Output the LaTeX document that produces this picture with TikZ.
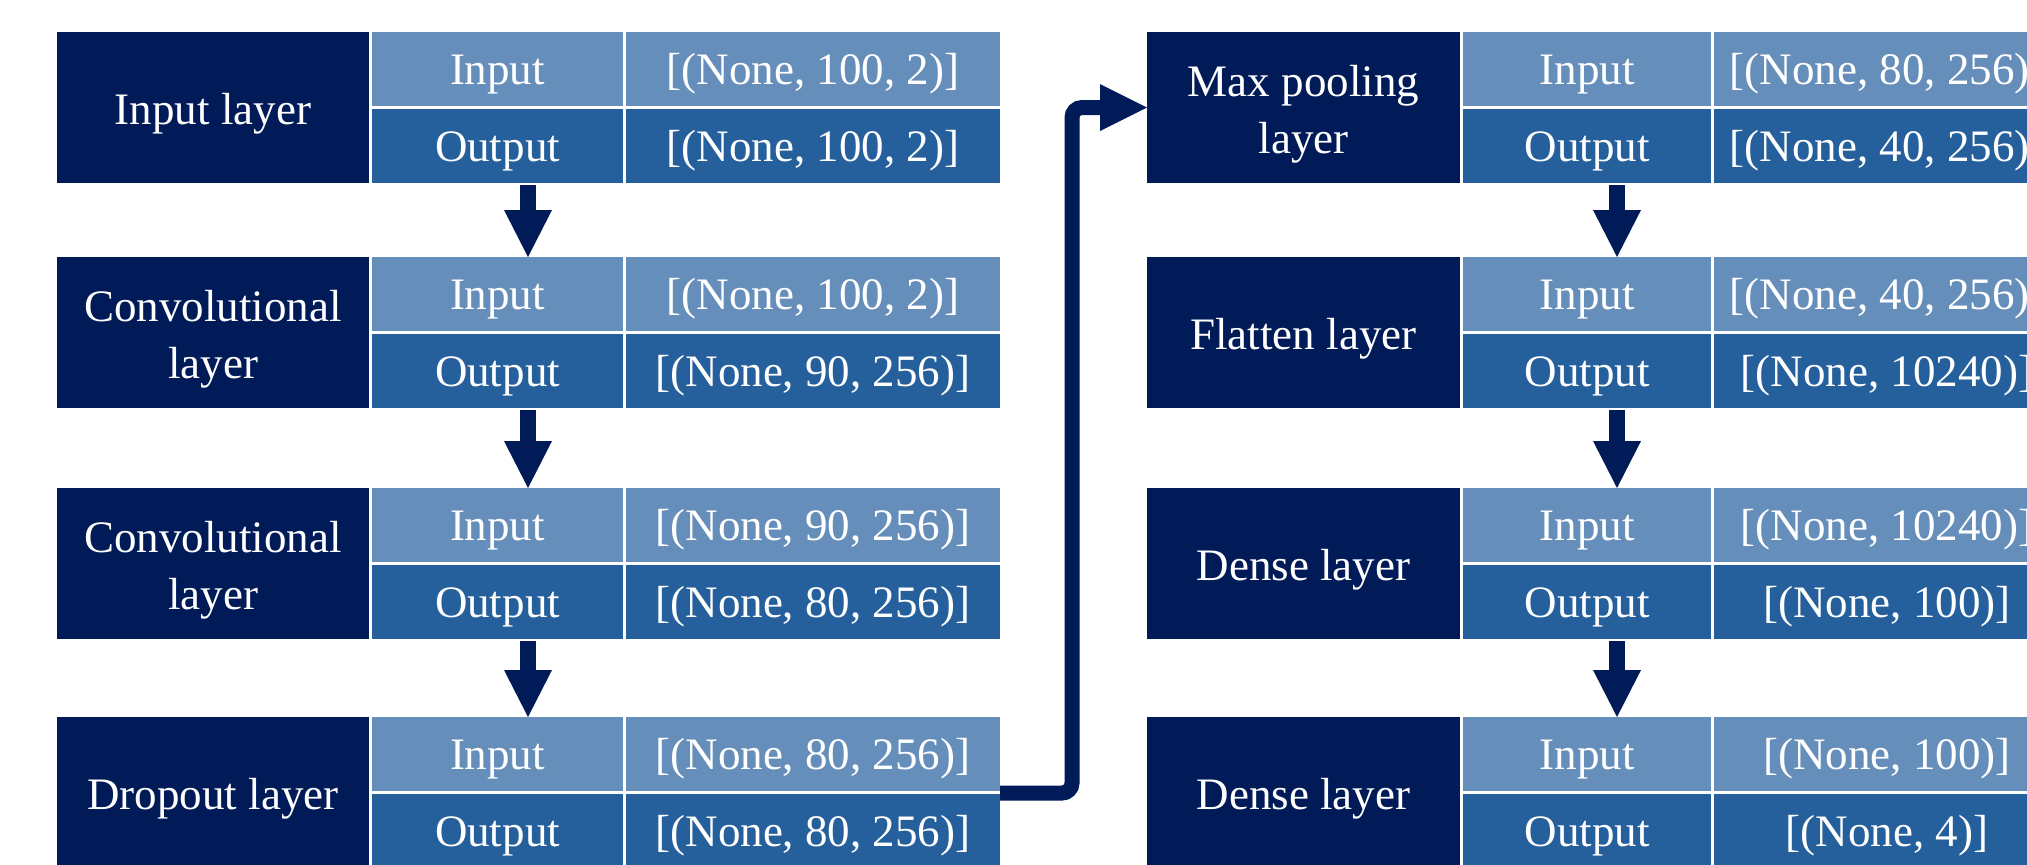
\documentclass[tikz,border=0pt]{standalone}
\usepackage{fontspec}
\setmainfont{Liberation Serif}
\usetikzlibrary{arrows.meta}
\definecolor{navy}{HTML}{001B58}
\definecolor{lightrow}{HTML}{668EBA}
\definecolor{midrow}{HTML}{255F9C}
\tikzset{
  cell/.style={inner sep=0pt, outer sep=0pt, text=white, font=\fontsize{22.5}{28.5}\selectfont, align=center},
  darkcell/.style={cell, fill=navy, minimum height=75.5pt},
  celltext/.style={cell},
  incell/.style={cell, fill=lightrow, minimum height=37pt, text height=15pt, text depth=0pt},
  outcell/.style={cell, fill=midrow, minimum height=37pt, text height=15pt, text depth=0pt},
  downarrow/.style={draw=navy, line width=8pt, -{Triangle[width=24pt,length=23.5pt,line width=0pt]}},
  linkarrow/.style={draw=navy, line width=7.5pt, rounded corners=5pt, -{Triangle[width=23.5pt,length=23.5pt,line width=0pt]}}
}
\newcommand\mkleft[5]{%
  \node[darkcell, minimum width=156pt] (#1d) at (213,#2+75.5) {};
  \node[celltext] (#1t) at ([yshift=-3.2pt]#1d.center) {#3};
  \node[incell, minimum width=125.5pt] (#1i) at (497.5,#2+37) {Input};
  \node[outcell, minimum width=125.5pt] (#1o) at (497.5,#2+114) {Output};
  \node[incell, minimum width=187pt] (#1vi) at (813,#2+37) {#4};
  \node[outcell, minimum width=187pt] (#1vo) at (813,#2+114) {#5};
}
\newcommand\mkright[5]{%
  \node[darkcell, minimum width=156.5pt] (#1d) at (1303.5,#2+75.5) {};
  \node[celltext] (#1t) at ([yshift=-3.2pt]#1d.center) {#3};
  \node[incell, minimum width=124pt] (#1i) at (1587,#2+37) {Input};
  \node[outcell, minimum width=124pt] (#1o) at (1587,#2+114) {Output};
  \node[incell, minimum width=173pt] (#1vi) at (1887,#2+37) {#4};
  \node[outcell, minimum width=173pt] (#1vo) at (1887,#2+114) {#5};
}
\begin{document}
\begin{tikzpicture}[x=0.5pt,y=-0.5pt]
\useasboundingbox (0,0) rectangle (2027,864);
\clip (0,0) rectangle (2027,864);
\fill[white] (0,0) rectangle (2027,864);
% left column
\mkleft{La}{32}{Input layer}{[(None, 100, 2)]}{[(None, 100, 2)]}
\mkleft{Lb}{257}{Convolutional\\layer}{[(None, 100, 2)]}{[(None, 90, 256)]}
\mkleft{Lc}{488}{Convolutional\\layer}{[(None, 90, 256)]}{[(None, 80, 256)]}
\mkleft{Ld}{717}{Dropout layer}{[(None, 80, 256)]}{[(None, 80, 256)]}
% right column
\mkright{Ra}{32}{Max pooling\\layer}{[(None, 80, 256)]}{[(None, 40, 256)]}
\mkright{Rb}{257}{Flatten layer}{[(None, 40, 256)]}{[(None, 10240)]}
\mkright{Rc}{488}{Dense layer}{[(None, 10240)]}{[(None, 100)]}
\mkright{Rd}{717}{Dense layer}{[(None, 100)]}{[(None, 4)]}
% down arrows
\draw[downarrow] ([xshift=15.25pt,yshift=-1pt]Lao.south) -- ([xshift=15.25pt]Lbi.north);
\draw[downarrow] ([xshift=15.25pt,yshift=-1pt]Lbo.south) -- ([xshift=15.25pt]Lci.north);
\draw[downarrow] ([xshift=15.25pt,yshift=-1pt]Lco.south) -- ([xshift=15.25pt]Ldi.north);
\draw[downarrow] ([xshift=15pt,yshift=-1pt]Rao.south) -- ([xshift=15pt]Rbi.north);
\draw[downarrow] ([xshift=15pt,yshift=-1pt]Rbo.south) -- ([xshift=15pt]Rci.north);
\draw[downarrow] ([xshift=15pt,yshift=-1pt]Rco.south) -- ([xshift=15pt]Rdi.north);
% link from dropout layer to max pooling layer
\draw[linkarrow] ([yshift=-1pt]Ldvi.south east) -- ++(36pt,0) |- (Rad.west);
\end{tikzpicture}
\end{document}
